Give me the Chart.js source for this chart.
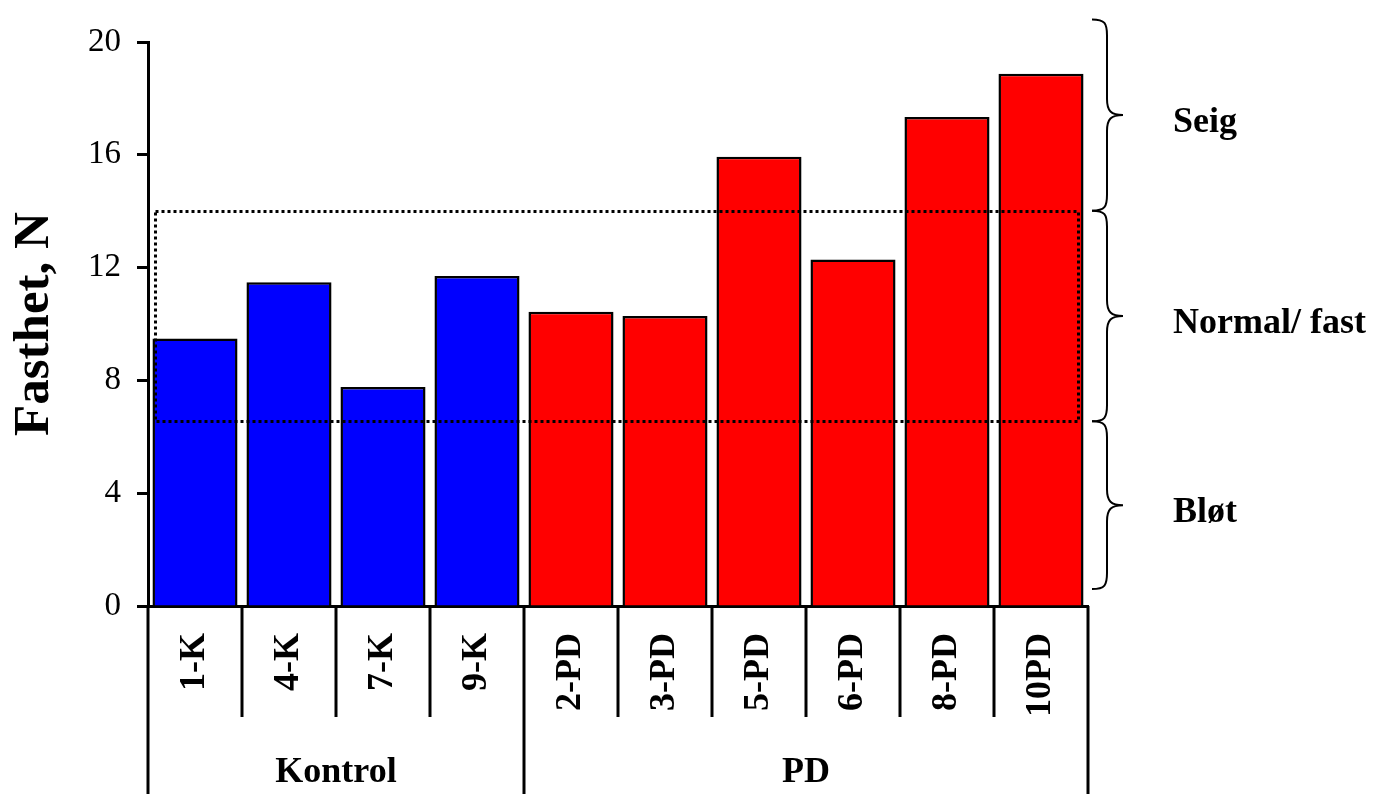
<!DOCTYPE html>
<html lang="en">

<head>
    <meta charset="UTF-8">
    <title>Fasthet</title>
    <script src="https://cdn.jsdelivr.net/npm/chart.js"></script>
    <style>
        body {
            margin: 0;
            background: #fff;
        }

        #wrap {
            width: 1380px;
            height: 794px;
        }
    </style>
</head>

<body>
    <div id="wrap">
        <canvas id="chart" width="1380" height="794"></canvas>
    </div>

    <script>
        // samples and measured firmness (N)
        const samples = ['1-K', '4-K', '7-K', '9-K', '2-PD', '3-PD', '5-PD', '6-PD', '8-PD', '10PD'];
        const firmness = [9.49, 11.48, 7.77, 11.7, 10.43, 10.28, 15.93, 12.29, 17.34, 18.87];
        const barColors = ['#0000ff', '#0000ff', '#0000ff', '#0000ff', '#ff0000', '#ff0000', '#ff0000', '#ff0000', '#ff0000', '#ff0000'];

        // groups under the axis: label, first index, last index
        const groupNames = ['Kontrol', 'PD'];
        const groupStart = [0, 4];
        const groupEnd = [3, 9];

        // normal range box (dotted) and its x extent in category units
        const normalLow = 6.55;
        const normalHigh = 14.02;
        const boxFrom = -0.43;
        const boxTo = 9.39;

        // brace zones on the right
        const zoneNames = ['Seig', 'Normal/ fast', 'Bløt'];
        const zoneTop = [20.8, 14.02, 6.55];
        const zoneBottom = [14.02, 6.55, 0.6];

        const yTicks = [0, 4, 8, 12, 16, 20];

        const serif = "'Liberation Serif', 'Times New Roman', serif";

        const extras = {
            id: 'extras',
            afterDraw(chart) {
                const ctx = chart.ctx;
                const x = chart.scales.x;
                const y = chart.scales.y;
                const area = chart.chartArea;
                const half = (x.getPixelForValue(1) - x.getPixelForValue(0)) / 2;

                ctx.save();

                // dotted normal range box
                ctx.strokeStyle = '#000';
                ctx.lineWidth = 3;
                ctx.setLineDash([3, 3]);
                const bx0 = Math.round(x.getPixelForValue(boxFrom)) + 0.5;
                const bx1 = Math.round(x.getPixelForValue(boxTo)) + 0.5;
                const by0 = Math.round(y.getPixelForValue(normalHigh)) + 0.5;
                const by1 = Math.round(y.getPixelForValue(normalLow)) + 0.5;
                ctx.strokeRect(bx0, by0, bx1 - bx0, by1 - by0);
                ctx.setLineDash([]);

                // separators under the axis
                ctx.lineWidth = 3;
                ctx.lineCap = 'butt';
                for (let i = 0; i <= samples.length; i++) {
                    const px = Math.round(x.getPixelForValue(i) - half);
                    const isGroup = groupStart.includes(i) || i === samples.length;
                    ctx.beginPath();
                    ctx.moveTo(px, area.bottom);
                    ctx.lineTo(px, isGroup ? 794 : area.bottom + 111);
                    ctx.stroke();
                }

                // group labels
                ctx.fillStyle = '#000';
                ctx.font = 'bold 36px ' + serif;
                ctx.textAlign = 'center';
                ctx.textBaseline = 'middle';
                groupNames.forEach((g, i) => {
                    const cx = (x.getPixelForValue(groupStart[i]) + x.getPixelForValue(groupEnd[i])) / 2;
                    ctx.fillText(g, cx, 773);
                });

                // braces
                ctx.lineWidth = 2;
                const x0 = area.right + 4;
                const xm = area.right + 19;
                const x1 = area.right + 35;
                zoneNames.forEach((name, i) => {
                    const t = y.getPixelForValue(zoneTop[i]);
                    const b = y.getPixelForValue(zoneBottom[i]);
                    const m = (t + b) / 2;
                    const r = 16;
                    ctx.beginPath();
                    ctx.moveTo(x0, t);
                    ctx.bezierCurveTo(xm - 2, t, xm, t + 4, xm, t + r);
                    ctx.lineTo(xm, m - r);
                    ctx.bezierCurveTo(xm, m - 4, xm + 4, m, x1, m);
                    ctx.bezierCurveTo(xm + 4, m, xm, m + 4, xm, m + r);
                    ctx.lineTo(xm, b - r);
                    ctx.bezierCurveTo(xm, b - 4, xm - 2, b, x0, b);
                    ctx.stroke();

                    ctx.textAlign = 'left';
                    ctx.fillText(name, area.right + 85, m + 8);
                });

                ctx.restore();
            }
        };

        new Chart(document.getElementById('chart'), {
            type: 'bar',
            data: {
                labels: samples,
                datasets: [{
                    data: firmness,
                    backgroundColor: barColors,
                    borderColor: '#000',
                    borderWidth: 2.5,
                    barPercentage: 0.905,
                    categoryPercentage: 1.0,
                }],
            },
            options: {
                responsive: false,
                animation: false,
                layout: {
                    padding: { top: 42, right: 292, bottom: 0, left: 0 }
                },
                plugins: {
                    legend: { display: false },
                    tooltip: { enabled: false },
                },
                scales: {
                    x: {
                        grid: { display: false, drawTicks: false },
                        border: { color: '#000', width: 3 },
                        ticks: {
                            color: '#000',
                            minRotation: 90,
                            maxRotation: 90,
                            padding: 27,
                            font: { family: serif, size: 36, weight: 'bold' },
                        },
                        afterFit(scale) { scale.height = 188; },
                    },
                    y: {
                        min: 0,
                        max: 20,
                        afterBuildTicks(scale) { scale.ticks = yTicks.map(v => ({ value: v })); },
                        grid: {
                            drawOnChartArea: false,
                            drawTicks: true,
                            tickLength: 11,
                            tickWidth: 3,
                            tickColor: '#000',
                        },
                        border: { color: '#000', width: 3 },
                        ticks: {
                            color: '#000',
                            padding: 16,
                            font: { family: serif, size: 33 },
                        },
                        title: {
                            display: true,
                            text: 'Fasthet, N',
                            color: '#000',
                            font: { family: serif, size: 51, weight: 'bold' },
                        },
                        afterFit(scale) { scale.width = 148; },
                    },
                },
            },
            plugins: [extras],
        });
    </script>
</body>

</html>
